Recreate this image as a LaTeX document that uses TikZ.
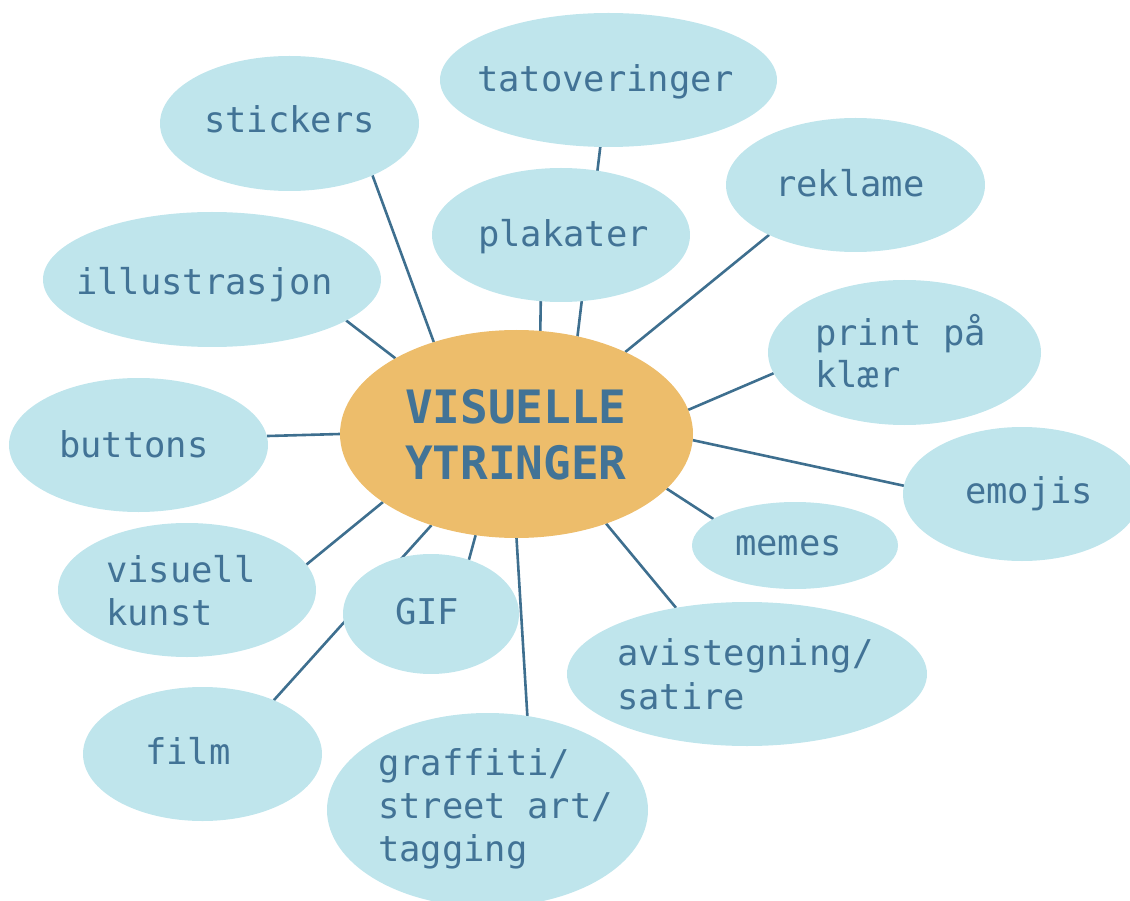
\documentclass[tikz,border=0pt]{standalone}
\usepackage{fontspec}
\newfontfamily\bubblefont{DejaVu Sans Mono}
\usetikzlibrary{shapes.geometric,backgrounds}
\definecolor{bubble}{HTML}{BFE5EC}
\definecolor{hubfill}{HTML}{EDBD6B}
\definecolor{ink}{HTML}{427396}
\definecolor{spokeblue}{HTML}{3E6F8F}
% left-aligned stack of lines; the box baseline is the first line's baseline
\newcommand\linestack[2]{\vtop{\baselineskip=#1\lineskiplimit=-100pt\halign{##\hfil\cr#2\crcr}}}

\begin{document}
\begin{tikzpicture}[x=1pt,y=-1pt,
  leaf/.style={ellipse, fill=bubble, draw=none, inner sep=0pt, outer sep=0pt},
  hubshape/.style={ellipse, fill=hubfill, draw=none, inner sep=0pt, outer sep=0pt},
  word/.style={anchor=base west, inner sep=0pt, outer sep=0pt, text=ink,
    font=\bubblefont\fontsize{35.5}{43}\selectfont},
  hubword/.style={anchor=base west, inner sep=0pt, outer sep=0pt, text=ink,
    font=\bubblefont\bfseries\fontsize{46}{56}\selectfont},
  spoke/.style={draw=spokeblue, line width=2.6pt}]

\useasboundingbox (0,0) rectangle (1130,901);

% central topic
\node[hubshape, minimum width=353pt, minimum height=208pt] (c) at (516.5,434) {};

% surrounding bubbles
\node[leaf, minimum width=259pt, minimum height=135pt] (stickers) at (289.5,123.5) {};
\node[leaf, minimum width=337pt, minimum height=134pt] (tatov)    at (608.5,80) {};
\node[leaf, minimum width=259pt, minimum height=134pt] (reklame)  at (855.5,185) {};
\node[leaf, minimum width=258pt, minimum height=134pt] (plakater) at (561,235) {};
\node[leaf, minimum width=338pt, minimum height=135pt] (illus)    at (212,279.5) {};
\node[leaf, minimum width=273pt, minimum height=145pt] (print)    at (904.5,352.5) {};
\node[leaf, minimum width=259pt, minimum height=134pt] (buttons)  at (138.5,445) {};
\node[leaf, minimum width=238pt, minimum height=134pt] (emojis)   at (1022,494) {};
\node[leaf, minimum width=206pt, minimum height=87pt]  (memes)    at (795,545.5) {};
\node[leaf, minimum width=258pt, minimum height=134pt] (visuell)  at (187,590) {};
\node[leaf, minimum width=176pt, minimum height=120pt] (gif)      at (431,614) {};
\node[leaf, minimum width=360pt, minimum height=144pt] (avis)     at (747,674) {};
\node[leaf, minimum width=239pt, minimum height=134pt] (film)     at (202.5,754) {};
\node[leaf, minimum width=321pt, minimum height=194pt] (graffiti) at (487.5,810) {};

% spokes from the centre, kept under the bubbles
\begin{scope}[on background layer]
  \draw[spoke] (c.132.4)  -- (stickers.-32.2);
  \draw[spoke] (c.148.1)  -- (illus.-17.6);
  \draw[spoke] (c.77.8)   -- (plakater.-107.1);
  \draw[spoke] (c.58)     -- (tatov.-97.5);
  \draw[spoke] (c.37.5)   -- (reklame.-150.4);
  \draw[spoke] (c.8.9)    -- (print.-171.4);
  \draw[spoke] (c.-2)     -- (emojis.176.1);
  \draw[spoke] (c.-20.8)  -- (memes.162);
  \draw[spoke] (c.-45.65) -- (avis.137.8);
  \draw[spoke] (c.-90.6)  -- (graffiti.67.2);
  \draw[spoke] (c.-112.6) -- (gif.55.6);
  \draw[spoke] (c.-133.7) -- (film.37.8);
  \draw[spoke] (c.-153.1) -- (visuell.12.7);
  \draw[spoke] (c.180)    -- (buttons.4.8);
\end{scope}

% labels
\node[hubword] (c-t) at (405,423) {\linestack{56pt}{VISUELLE\cr YTRINGER}};
\node[word] (stickers-t) at (204,133) {stickers};
\node[word] (tatov-t)    at (477,92)  {tatoveringer};
\node[word] (reklame-t)  at (775,197) {reklame};
\node[word] (plakater-t) at (478,247) {plakater};
\node[word] (illus-t)    at (76,295)  {illustrasjon};
\node[word] (print-t)    at (815,345) {\linestack{43pt}{print på\cr klær}};
\node[word] (buttons-t)  at (59,457)  {buttons};
\node[word] (emojis-t)   at (965,503) {emojis};
\node[word] (memes-t)    at (735,555) {memes};
\node[word] (visuell-t)  at (106,582) {\linestack{43pt}{visuell\cr kunst}};
\node[word] (gif-t)      at (395,624) {GIF};
\node[word] (avis-t)     at (617,665) {\linestack{44pt}{avistegning/\cr satire}};
\node[word] (film-t)     at (145,764) {film};
\node[word] (graffiti-t) at (378,775) {\linestack{43pt}{graffiti/\cr street art/\cr tagging}};
\end{tikzpicture}
\end{document}
